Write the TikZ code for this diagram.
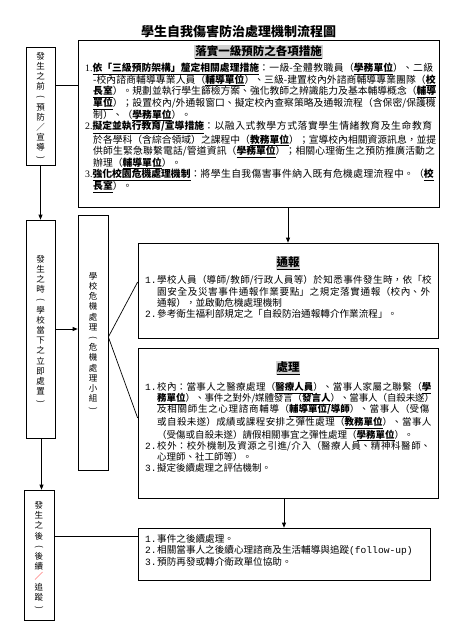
\documentclass[tikz,border=0pt]{standalone}
\usepackage{fontspec}
\usepackage{graphicx}
\setmainfont{Noto Sans CJK TC}
\newfontfamily\monof{Liberation Mono}
\newfontfamily\serf{Liberation Serif}
\usetikzlibrary{arrows.meta}
\XeTeXlinebreaklocale "zh"
\XeTeXlinebreakskip=0pt plus 3pt minus 0.6pt
\definecolor{hlgray}{gray}{0.82}
\newcommand{\bul}[1]{\underline{\textbf{#1}}}
\newcommand{\hdr}[1]{{\setlength{\fboxsep}{0.8pt}\colorbox{hlgray}{\underline{\textbf{#1}}}}}
\newcommand{\num}[1]{\makebox[12pt][l]{\monof #1}}
\newcommand{\vop}{\rotatebox[origin=c]{-90}{(}}
\newcommand{\vcl}{\rotatebox[origin=c]{-90}{)}}
\begin{document}
\begin{tikzpicture}[x=1pt,y=-1pt,
  box/.style={draw, line width=0.7pt, inner sep=0pt},
  arr/.style={line width=0.7pt, -{Triangle[length=5pt,width=4pt]}},
  ln/.style={line width=0.7pt},
  vlab/.style={align=center, inner sep=0pt, font=\fontsize{8.5}{10.2}\selectfont},
  hd/.style={inner sep=0pt, font=\fontsize{11.5}{13}\selectfont},
  txt/.style={inner sep=0pt, anchor=base west}]
\useasboundingbox (0,0) rectangle (457,637);

% title
\node[inner sep=0pt, font=\fontsize{13}{15}\selectfont\bfseries] (title) at (238.5,32) {學生自我傷害防治處理機制流程圖};

% boxes
\node[box, minimum width=361, minimum height=167] (topbox) at (258.5,123.5) {};
\node[box, minimum width=29, minimum height=118] (bef) at (40.5,106) {};
\node[box, minimum width=29, minimum height=218] (dur) at (40.5,329) {};
\node[box, minimum width=30, minimum height=255] (crisis) at (93,342.5) {};
\node[box, minimum width=300, minimum height=95] (notify) at (288,290.5) {};
\node[box, minimum width=300, minimum height=150] (handle) at (288,423) {};
\node[box, minimum width=30, minimum height=130] (aft) at (39,555) {};
\node[box, minimum width=292, minimum height=52] (final) at (284,554) {};

% vertical labels
\node[vlab] (befl) at (40.5,106.5) {發\\生\\之\\前\\\vop\\預\\防\\／\\宣\\導\\\vcl};
\node[vlab] (durl) at (40.5,330) {發\\生\\之\\時\\\vop\\學\\校\\當\\下\\之\\立\\即\\處\\置\\\vcl};
\node[vlab] (crisisl) at (93,342) {學\\校\\危\\機\\處\\理\\\vop\\危\\機\\處\\理\\小\\組\\\vcl};
\node[vlab] (aftl) at (39,556) {發\\生\\之\\後\\\vop\\後\\續\\{\color{red}／}\\追\\蹤\\\vcl};

% headers
\node[hd] (tophead) at (258.5,52) {\hdr{落實一級預防之各項措施}};
\node[hd] (ntfhead) at (288,263) {\hdr{通報}};
\node[hd] (hdlhead) at (288,368) {\hdr{處理}};

% top box text
\node[txt, text width=351pt] (toptext) at (85,71.7) {\fontsize{9.8}{11.6}\selectfont
\hangindent=8pt\hangafter=1 {\serf 1.}\bul{依「三級預防架構」釐定相關處理措施}：一級-全體教職員（\bul{學務單位}）、二級\linebreak
-校內諮商輔導專業人員（\bul{輔導單位}）、三級-建置校內外諮商輔導專業團隊（\bul{校}\linebreak
\bul{長室}）。規劃並執行學生篩檢方案、強化教師之辨識能力及基本輔導概念（\bul{輔導}\linebreak
\bul{單位}）；設置校內/外通報窗口、擬定校內查察策略及通報流程（含保密/保護機\linebreak
制）、（\bul{學務單位}）。\par
\hangindent=8pt\hangafter=1 {\serf 2.}\bul{擬定並執行教育/宣導措施}：以融入式教學方式落實學生情緒教育及生命教育\linebreak
於各學科（含綜合領域）之課程中（\bul{教務單位}）；宣導校內相關資源訊息，並提\linebreak
供師生緊急聯繫電話/管道資訊（\bul{學務單位}）；相關心理衛生之預防推廣活動之\linebreak
辦理（\bul{輔導單位}）。\par
\hangindent=8pt\hangafter=1 {\serf 3.}\bul{強化校園危機處理機制}：將學生自我傷害事件納入既有危機處理流程中。（\bul{校}\linebreak
\bul{長室}）。\par};

% notify text
\node[txt, text width=289pt] (ntftext) at (145,283.7) {\fontsize{9.6}{11.4}\selectfont
\hangindent=12pt\hangafter=1 \num{1.}學校人員（導師/教師/行政人員等）於知悉事件發生時，依「校\linebreak
園安全及災害事件通報作業要點」之規定落實通報（校內、外\linebreak
通報），並啟動危機處理機制\par
\hangindent=12pt\hangafter=1 \num{2.}參考衛生福利部規定之「自殺防治通報轉介作業流程」。\par};

% handle text
\node[txt, text width=289pt] (hdltext) at (145,390.4) {\fontsize{9.5}{11.25}\selectfont
\hangindent=12pt\hangafter=1 \num{1.}校內：當事人之醫療處理（\bul{醫療人員}）、當事人家屬之聯繫（\bul{學}\linebreak
\bul{務單位}）、事件之對外/媒體發言（\bul{發言人}）、當事人（自殺未遂）\linebreak
及相關師生之心理諮商輔導（\bul{輔導單位/導師}）、當事人（受傷\linebreak
或自殺未遂）成績或課程安排之彈性處理（\bul{教務單位}）、當事人\linebreak
（受傷或自殺未遂）請假相關事宜之彈性處理（\bul{學務單位}）。\par
\hangindent=12pt\hangafter=1 \num{2.}校外：校外機制及資源之引進/介入（醫療人員、精神科醫師、\linebreak
心理師、社工師等）。\par
\hangindent=12pt\hangafter=1 \num{3.}擬定後續處理之評估機制。\par};

% final text
\node[txt, text width=285pt] (fintext) at (145,542) {\fontsize{9.6}{11.7}\selectfont
\num{1.}事件之後續處理。\par
\num{2.}相關當事人之後續心理諮商及生活輔導與追蹤{\monof (follow-up)}\par
\num{3.}預防再發或轉介衛政單位協助。\par};

% connectors
\draw[ln] (bef.east |- {0,85}) -- (topbox.west |- {0,85});
\draw[arr] (bef.south) -- (dur.north);
\draw[arr] (notify.north |- topbox.south) -- (notify.north);
\draw[arr] (dur.east) -- (dur.east -| crisis.west);
\draw[ln] (crisis.east |- {0,337}) -- (notify.west |- {0,282});
\draw[ln] (crisis.east |- {0,337}) -- (handle.west |- {0,418});
\draw[arr] ([xshift=1pt]dur.south) -- ([xshift=1pt]dur.south |- aft.north);
\draw[arr] (final.north |- handle.south) -- (final.north);
\draw[ln] (aft.east |- {0,536}) -- (final.west |- {0,536});
\end{tikzpicture}
\end{document}
